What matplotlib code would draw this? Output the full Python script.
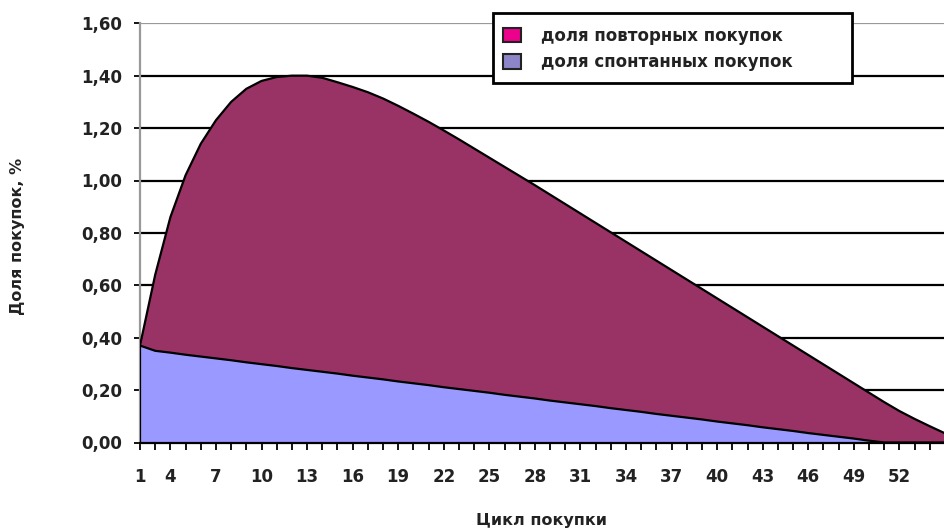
import matplotlib
matplotlib.use("Agg")
import matplotlib.pyplot as plt
from matplotlib.patches import Patch, Rectangle
import numpy as np

# purchase cycle index (categories)
cycles = list(range(1, 55))
# share of spontaneous purchases, %
spontaneous = [0.370, 0.350, 0.343, 0.335, 0.328, 0.321, 0.314, 0.306, 0.299, 0.292,
               0.284, 0.277, 0.270, 0.263, 0.255, 0.248, 0.241, 0.233, 0.226, 0.219,
               0.211, 0.204, 0.197, 0.190, 0.182, 0.175, 0.168, 0.160, 0.153, 0.146,
               0.139, 0.131, 0.124, 0.117, 0.109, 0.102, 0.095, 0.088, 0.080, 0.073,
               0.066, 0.058, 0.051, 0.044, 0.036, 0.029, 0.022, 0.015, 0.007, 0.000,
               0.000, 0.000, 0.000, 0.000]
# share of repeat purchases, %
repeat = [0.000, 0.290, 0.517, 0.685, 0.812, 0.909, 0.986, 1.044, 1.081, 1.103,
          1.116, 1.123, 1.122, 1.112, 1.102, 1.089, 1.072, 1.052, 1.029, 1.005,
          0.980, 0.953, 0.925, 0.897, 0.870, 0.842, 0.814, 0.786, 0.757, 0.728,
          0.699, 0.671, 0.642, 0.613, 0.585, 0.556, 0.527, 0.498, 0.470, 0.441,
          0.412, 0.384, 0.355, 0.326, 0.298, 0.269, 0.240, 0.211, 0.183, 0.154,
          0.120, 0.090, 0.062, 0.035]
tick_labels = ["1", "4", "7", "10", "13", "16", "19", "22", "25", "28", "31", "34",
               "37", "40", "43", "46", "49", "52"]
tick_cycles = [1, 3, 6, 9, 12, 15, 18, 21, 24, 27, 30, 33, 36, 39, 42, 45, 48, 51]
yticks = [0.0, 0.2, 0.4, 0.6, 0.8, 1.0, 1.2, 1.4, 1.6]
ytick_labels = ["0,00", "0,20", "0,40", "0,60", "0,80", "1,00", "1,20", "1,40", "1,60"]
series_names = ["доля повторных покупок", "доля спонтанных покупок"]
legend_colors = ["#ec008c", "#8c86c8"]
fill_repeat = "#993366"
fill_spont = "#9999ff"

W, H = 945, 531
fig = plt.figure(figsize=(W / 100, H / 100), dpi=100)
ax = fig.add_axes([140 / W, (H - 442.5) / H, (945 - 140) / W, (442.5 - 23.3) / H])

x = np.array(cycles)
sp = np.array(spontaneous)
rp = np.array(repeat)
tot = sp + rp

# gridlines
for yv in yticks[1:-1]:
    ax.axhline(yv, color="black", lw=1.6, zorder=1)
ax.axhline(1.6, color="#999999", lw=1.6, zorder=1)

ax.fill_between(x, 0, sp, facecolor=fill_spont, edgecolor="none", zorder=2)
ax.fill_between(x, sp, tot, facecolor=fill_repeat, edgecolor="none", zorder=2)
ax.plot(x, sp, color="black", lw=1.6, zorder=3)
ax.plot(x, tot, color="black", lw=1.6, zorder=3)
ax.plot([x[0], x[0]], [0, tot[0]], color="black", lw=1.6, zorder=3)

ax.set_xlim(1, 1 + (945 - 140) / 15.23)
ax.set_ylim(0, 1.6)

ax.set_xticks(cycles, minor=True)
ax.set_xticks(tick_cycles)
ax.set_xticklabels(tick_labels)
ax.tick_params(axis="x", which="both", direction="out", length=5, width=1.3, color="black")
ax.tick_params(axis="x", which="major", pad=13, labelsize=12)
ax.set_yticks(yticks)
ax.set_yticklabels(ytick_labels)
ax.tick_params(axis="y", direction="out", length=4, width=1.3, pad=9, labelsize=12)
for lab in ax.get_xticklabels() + ax.get_yticklabels():
    lab.set_fontweight("bold")
    lab.set_color("#222222")

for s in ["top", "right"]:
    ax.spines[s].set_visible(False)
ax.spines["left"].set_color("#999999")
ax.spines["left"].set_linewidth(1.6)
ax.spines["bottom"].set_color("black")
ax.spines["bottom"].set_linewidth(1.6)
ax.spines["bottom"].set_zorder(4)

fig.text(18 / W, 1 - 236 / H, "Доля покупок, %", rotation=90, ha="center", va="center",
         fontsize=11.5, fontweight="bold", color="#222222")
fig.text(542 / W, 1 - 520 / H, "Цикл покупки", ha="center", va="center",
         fontsize=11.5, fontweight="bold", color="#222222")

# legend box
fig.patches.append(Rectangle((493 / W, 1 - 83 / H), (852 - 493) / W, 70 / H,
                             transform=fig.transFigure, facecolor="white",
                             edgecolor="black", lw=2, zorder=5))
handles = [Patch(facecolor=c, edgecolor="#222222", lw=1.5) for c in legend_colors]
leg = fig.legend(handles, series_names, loc="upper left",
                 bbox_to_anchor=(503 / W, 1 - 27 / H), frameon=False,
                 borderaxespad=0, borderpad=0,
                 handlelength=1.1, handleheight=0.95, handletextpad=1.2,
                 labelspacing=0.5, prop={"weight": "bold", "size": 12})
leg.set_zorder(6)
for t in leg.get_texts():
    t.set_color("#222222")

fig.savefig("out.png", dpi=100)
